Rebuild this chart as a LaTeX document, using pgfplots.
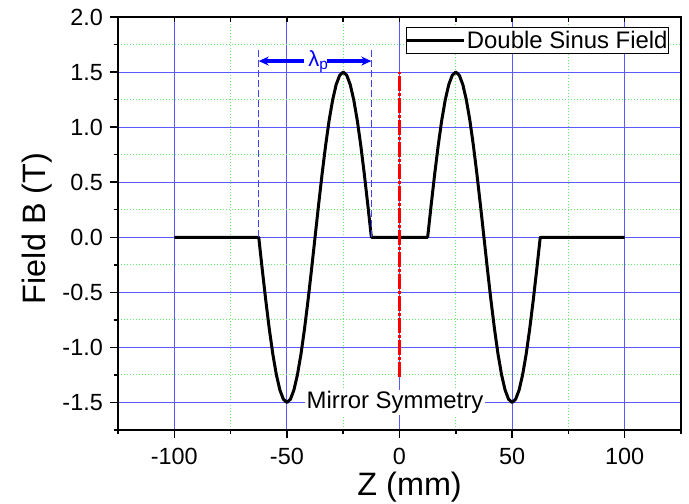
\documentclass[border=0pt]{standalone}
\usepackage{fontspec}
\setmainfont{Liberation Sans}
\usepackage{pgfplots}
\usepackage{pgfplotstable}
\pgfplotsset{compat=1.18}
\usetikzlibrary{arrows.meta}

\definecolor{gridblue}{RGB}{90,90,255}
\definecolor{gridgreen}{RGB}{110,235,110}
\definecolor{lamblue}{RGB}{0,0,255}

% double sinus field, B (T) against Z (mm)
\pgfplotstableread{
z b
-100 0
-62.5 0
-60.9375 -0.293
-59.375 -0.574
-57.8125 -0.833
-56.25 -1.061
-54.6875 -1.247
-53.125 -1.386
-51.5625 -1.471
-50 -1.5
-48.4375 -1.471
-46.875 -1.386
-45.3125 -1.247
-43.75 -1.061
-42.1875 -0.833
-40.625 -0.574
-39.0625 -0.293
-37.5 0
-35.9375 0.293
-34.375 0.574
-32.8125 0.833
-31.25 1.061
-29.6875 1.247
-28.125 1.386
-26.5625 1.471
-25 1.5
-23.4375 1.471
-21.875 1.386
-20.3125 1.247
-18.75 1.061
-17.1875 0.833
-15.625 0.574
-14.0625 0.293
-12.5 0
12.5 0
14.0625 0.293
15.625 0.574
17.1875 0.833
18.75 1.061
20.3125 1.247
21.875 1.386
23.4375 1.471
25 1.5
26.5625 1.471
28.125 1.386
29.6875 1.247
31.25 1.061
32.8125 0.833
34.375 0.574
35.9375 0.293
37.5 0
39.0625 -0.293
40.625 -0.574
42.1875 -0.833
43.75 -1.061
45.3125 -1.247
46.875 -1.386
48.4375 -1.471
50 -1.5
51.5625 -1.471
53.125 -1.386
54.6875 -1.247
56.25 -1.061
57.8125 -0.833
59.375 -0.574
60.9375 -0.293
62.5 0
100 0
}\fieldtable

\begin{document}
\begin{tikzpicture}
\path[use as bounding box] (-118bp,-74bp) rectangle (571bp,430bp);
\begin{axis}[
scale only axis,
width=563bp, height=413bp,
xmin=-125, xmax=125,
ymin=-1.75, ymax=2,
xtick={-100,-50,0,50,100},
xticklabels={-100,-50,0,50,100},
minor xtick={-125,-75,-25,25,75,125},
ytick={-1.5,-1,-0.5,0,0.5,1,1.5,2},
yticklabels={-1.5,-1.0,-0.5,0.0,0.5,1.0,1.5,2.0},
minor ytick={-1.75,-1.25,-0.75,-0.25,0.25,0.75,1.25,1.75},
xtick pos=bottom, ytick pos=left,
tick align=outside,
major tick length=8bp, minor tick length=4bp,
tick style={line width=1.5bp, black},
axis line style={line width=2bp},
grid=both,
major grid style={gridblue, line width=1bp},
minor grid style={gridgreen, line width=1bp, dash pattern=on 1.5bp off 1.5bp},
tick label style={font=\fontsize{23.5}{26}\selectfont},
xticklabel style={anchor=north, inner sep=0pt, yshift=-10bp},
yticklabel style={anchor=east, inner sep=0pt, xshift=-7bp},
xlabel={Z (mm)},
ylabel={Field B (T)},
label style={font=\fontsize{32.5}{36}\selectfont},
xlabel style={at={(axis description cs:0.518,-0.1574)}, anchor=base},
ylabel style={at={(axis description cs:-0.128,0.488)}, anchor=base, rotate=0},
legend style={at={(1,1)}, anchor=north east, xshift=-12bp, yshift=-10bp,
  draw=black, line width=0.8bp, inner sep=0pt,
  font=\fontsize{24}{26}\selectfont,
  nodes={inner xsep=1bp, inner ysep=3.5bp}},
legend image code/.code={\draw[#1] (-2bp,0bp) -- (55bp,0bp);},
]
\addplot[black, line width=3bp, line join=round] table[x=z, y=b] {\fieldtable};
\addlegendentry{Double Sinus Field}

% mirror plane
\addplot[red, line width=3bp, dash pattern=on 15bp off 2bp on 3bp off 2bp, forget plot]
coordinates {(0,-1.27) (0,1.5)};

% period markers
\addplot[lamblue!75, line width=1bp, dash pattern=on 7bp off 3bp, forget plot]
coordinates {(-62.5,0) (-62.5,1.705)};
\addplot[lamblue!75, line width=1bp, dash pattern=on 7bp off 3bp, forget plot]
coordinates {(-12.5,0) (-12.5,1.705)};
\addplot[lamblue, line width=3.5bp, -{Stealth[length=10bp, width=9bp]}, forget plot]
coordinates {(-42.6,1.6) (-62.5,1.6)};
\addplot[lamblue, line width=3.5bp, -{Stealth[length=10bp, width=9bp]}, forget plot]
coordinates {(-32.4,1.6) (-12.5,1.6)};

\node[lamblue, anchor=base west, inner sep=0pt, font=\fontsize{22}{24}\selectfont]
  at (axis cs:-40.5,1.55) {λ\textsubscript{p}};
\node[fill=white, anchor=base, inner sep=1.5bp, font=\fontsize{24}{26}\selectfont]
  at (axis cs:-2,-1.556) {Mirror Symmetry};
\end{axis}

% inward ticks along the top edge
\begin{axis}[
scale only axis,
width=563bp, height=413bp,
xmin=-125, xmax=125,
ymin=-1.75, ymax=2,
hide y axis,
axis x line*=top,
xtick={-100,-50,0,50,100},
minor xtick={-75,-25,25,75},
xticklabels={},
tick align=inside,
major tick length=5bp, minor tick length=5bp,
tick style={line width=1.5bp, black},
axis line style={line width=2bp},
]
\end{axis}
\end{tikzpicture}
\end{document}
